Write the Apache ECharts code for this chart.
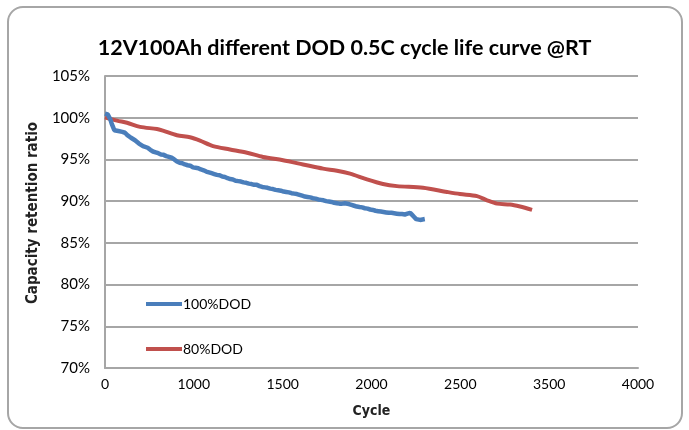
<!DOCTYPE html>
<html>
<head>
<meta charset="utf-8">
<script src="https://cdn.jsdelivr.net/npm/echarts@6/dist/echarts.min.js"></script>
<style>html,body{margin:0;padding:0;background:#fff}#c{width:689px;height:430px}</style>
</head>
<body>
<div id="c"></div>
<script>
var titleText = '12V100Ah different DOD 0.5C cycle life curve @RT';
var seriesNames = ['100%DOD', '80%DOD'];
var xTickLabels = ['0', '1000', '1500', '2000', '2500', '3500', '4000'];
var xAxisName = 'Cycle';
var yAxisName = 'Capacity retention ratio';

// 100%DOD: [cycle, %]
var dod100 = [
 [0,100.5],[10,100.3],[20,100.4],[30,100.2],[40,99.8],[50,99.3],[60,98.9],[70,98.5],[85,98.6],[100,98.4],
 [115,98.5],[130,98.3],[150,98.2],[165,97.95],[180,97.9],[195,97.6],[210,97.55],[225,97.3],[240,97.1],[255,96.9],
 [270,96.85],[285,96.6],[300,96.5],[320,96.4],[340,96.15],[360,95.95],[380,95.85],[400,95.75],[420,95.6],[440,95.55],
 [460,95.4],[480,95.3],[500,95.2],[520,95.0],[540,94.75],[560,94.6],[580,94.55],[600,94.4],[620,94.3],[640,94.25],
 [660,94.05],[680,94.0],[700,93.95],[720,93.8],[740,93.7],[760,93.55],[780,93.45],[800,93.35],[820,93.25],[840,93.15],
 [860,93.1],[880,92.95],[900,92.9],[920,92.75],[940,92.65],[960,92.6],[980,92.45],[1000,92.4],[1020,92.35],[1040,92.25],
 [1060,92.2],[1080,92.1],[1100,92.05],[1120,91.95],[1140,91.95],[1160,91.8],[1180,91.7],[1200,91.65],[1220,91.6],[1240,91.5],
 [1260,91.45],[1280,91.35],[1300,91.3],[1320,91.25],[1340,91.15],[1360,91.1],[1380,91.05],[1400,90.95],[1420,90.9],[1440,90.85],
 [1460,90.75],[1480,90.65],[1500,90.55],[1520,90.5],[1540,90.45],[1560,90.35],[1580,90.3],[1600,90.2],[1620,90.15],[1640,90.1],
 [1660,90.0],[1680,89.95],[1700,89.9],[1720,89.8],[1740,89.75],[1760,89.7],[1780,89.7],[1800,89.75],[1815,89.85],[1830,89.65],
 [1850,89.55],[1870,89.45],[1890,89.35],[1910,89.3],[1930,89.25],[1950,89.15],[1970,89.1],[1990,89.0],[2010,88.95],[2030,88.85],
 [2050,88.8],[2070,88.75],[2090,88.7],[2110,88.65],[2130,88.6],[2150,88.6],[2170,88.55],[2190,88.5],[2210,88.45],[2230,88.45],
 [2250,88.4],[2270,88.5],[2290,88.6],[2305,88.35],[2320,88.1],[2335,87.85],[2350,87.7],[2365,87.75],[2380,87.8],[2400,87.85]
];

// 80%DOD: [cycle, %]
var dod80 = [
 [0,100.05],[90,99.65],[165,99.4],[263,98.9],[390,98.65],[435,98.45],[540,97.9],[638,97.65],[713,97.25],
 [811,96.6],[938,96.2],[1066,95.8],[1186,95.3],[1336,94.9],[1486,94.4],[1636,93.9],[1741,93.65],[1839,93.3],
 [1966,92.6],[2086,92.05],[2191,91.8],[2387,91.6],[2567,91.1],[2664,90.85],[2792,90.6],[2867,90.1],[2942,89.7],
 [3040,89.6],[3115,89.35],[3205,88.95]
];

var chart = echarts.init(document.getElementById('c'), null, {renderer: 'canvas'});
var xMax = 4000, xInterval = 4000 / 6;
var labelFont = 'Lato, "Open Sans", sans-serif';
var condBold = '"DejaVu Sans Condensed", "Liberation Sans Narrow", sans-serif';

chart.setOption({
  animation: false,
  backgroundColor: '#ffffff',
  graphic: [{
    type: 'rect',
    shape: {x: 8, y: 7, width: 674, height: 421, r: 15},
    style: {fill: 'none', stroke: '#a6a6a6', lineWidth: 2},
    z: 0
  }],
  title: {
    text: titleText,
    left: 'center',
    top: 32,
    textStyle: {fontFamily: labelFont, fontWeight: 'bold', fontSize: 21.5, color: '#000'}
  },
  legend: {
    orient: 'vertical',
    left: 141,
    top: 292,
    itemGap: 31,
    itemWidth: 36,
    itemHeight: 4,
    icon: 'rect',
    textStyle: {fontFamily: labelFont, fontSize: 14, color: '#000', padding: [0, 0, 0, -4], lineHeight: 14},
    data: seriesNames
  },
  grid: {left: 105, right: 51, top: 76, bottom: 62, containLabel: false},
  xAxis: {
    type: 'value',
    min: 0,
    max: xMax,
    interval: xInterval,
    name: xAxisName,
    nameLocation: 'middle',
    nameGap: 36,
    nameTextStyle: {fontFamily: condBold, fontWeight: 'bold', fontSize: 14, color: '#222'},
    axisLine: {show: true, lineStyle: {color: '#a6a6a6', width: 2}},
    axisTick: {show: false},
    splitLine: {show: false},
    axisLabel: {
      margin: 9,
      fontFamily: labelFont, fontSize: 14, color: '#000',
      formatter: function (v) { var i = Math.round(v / xInterval); return xTickLabels[i] || ''; }
    }
  },
  yAxis: {
    type: 'value',
    min: 70,
    max: 105,
    interval: 5,
    name: yAxisName,
    nameLocation: 'middle',
    nameGap: 59,
    nameRotate: 90,
    nameTextStyle: {fontFamily: condBold, fontWeight: 'bold', fontSize: 15, color: '#222', padding: [0, 0, 0, 18]},
    axisLine: {show: true, lineStyle: {color: '#a6a6a6', width: 2}},
    axisTick: {show: false},
    splitLine: {show: true, lineStyle: {color: '#a6a6a6', width: 2}},
    axisLabel: {
      margin: 15,
      fontFamily: labelFont, fontSize: 15, color: '#000',
      formatter: function (v) { return v + '%'; }
    }
  },
  series: [
    {
      name: seriesNames[0], type: 'line', data: dod100, symbol: 'none',
      lineStyle: {color: '#4a7ebb', width: 4.5},
      itemStyle: {color: '#4a7ebb'}, z: 3
    },
    {
      name: seriesNames[1], type: 'line', data: dod80, symbol: 'none', smooth: 0.3,
      lineStyle: {color: '#c0504d', width: 4},
      itemStyle: {color: '#c0504d'}, z: 2
    }
  ]
});
</script>
</body>
</html>
